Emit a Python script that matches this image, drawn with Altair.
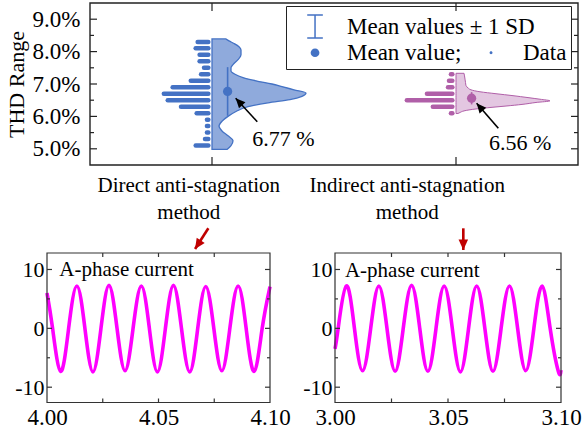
import altair as alt
import pandas as pd

# ------------------------------------------------------------------ data
cat_pos = [1, 3]
cat_line1 = ["Direct anti-stagnation", "Indirect anti-stagnation"]
cat_line2 = ["method", "method"]
cat_label_x = [0.81, 2.60]

mean_thd = [6.77, 6.56]
sd_thd = [0.75, 0.19]
mean_text = ["6.77 %", "6.56 %"]

# histograms (bin centre in %, relative frequency)
hist_d_bin = [5.1, 5.3, 5.5, 5.7, 5.9, 6.1, 6.3, 6.5, 6.7, 6.9, 7.1, 7.3, 7.5, 7.7, 7.9, 8.1, 8.3]
hist_d_freq = [3.5, 1.6, 1.2, 1.2, 1.2, 3.3, 6.5, 9.2, 10.0, 8.2, 4.5, 2.4, 1.8, 2.7, 2.7, 3.5, 3.1]
hist_i_bin = [6.1, 6.3, 6.5, 6.7, 6.9, 7.1, 7.3]
hist_i_freq = [1.2, 4.9, 10.2, 6.1, 1.8, 1.6, 1.2]

# half-violin density (THD value, relative density)
viol_d_v = [4.98, 5.10, 5.25, 5.40, 5.55, 5.70, 5.85, 6.00, 6.15, 6.30, 6.42, 6.52, 6.62, 6.72,
            6.82, 6.92, 7.00, 7.10, 7.20, 7.30, 7.40, 7.50, 7.60, 7.75, 7.90, 8.05, 8.15, 8.25,
            8.33, 8.39]
viol_d_w = [15, 19, 21, 16, 10, 7, 10, 16, 24, 36, 56, 78, 90, 94,
            82, 70, 60, 44, 31, 23, 19, 19, 21, 26, 29, 29, 27, 22,
            17, 14]
viol_i_v = [6.09, 6.12, 6.17, 6.23, 6.28, 6.32, 6.37, 6.43, 6.48, 6.53, 6.58, 6.64, 6.70,
            6.76, 6.82, 6.88, 6.95, 7.05, 7.15, 7.25, 7.33]
viol_i_w = [2, 4, 8, 20, 36, 50, 66, 80, 94, 84, 72, 57, 40,
            24, 15, 12, 10, 9.5, 9, 8.5, 8]

# annotations (top panel coordinates)
ann_x = [1.33, 3.27]
ann_y = [5.09, 4.96]
arr_tail_x = [1.371, 3.347]
arr_tail_y = [5.836, 5.633]
arr_tip_x = [1.194, 3.169]
arr_tip_y = [6.559, 6.404]
arr_angle = [317, 319]
red_tail_x = [0.970, 3.060]
red_tail_y = [2.546, 2.546]
red_tip_x = [0.861, 3.060]
red_tip_y = [1.907, 1.877]
red_angle = [213, 180]

legend_labels = ["Mean values \u00b1 1 SD", "Mean value;", "Data"]

# A-phase current, left window (4.00-4.10 s)
cur_l_t = [4.0000, 4.0025, 4.0061, 4.0097, 4.0134, 4.0170, 4.0206, 4.0242, 4.0278, 4.0314,
           4.0350, 4.0386, 4.0423, 4.0459, 4.0495, 4.0531, 4.0567, 4.0603, 4.0640, 4.0676,
           4.0712, 4.0748, 4.0784, 4.0820, 4.0857, 4.0893, 4.0929, 4.0965, 4.1000]
cur_l_i = [6.0, 0, -7.3, 0, 7.2, 0, -7.4, 0, 7.3, 0,
           -7.2, 0, 7.2, 0, -7.4, 0, 7.3, 0, -7.4, 0,
           7.1, 0, -7.2, 0, 7.2, 0, -7.3, 0, 7.1]
# A-phase current, right window (3.00-3.10 s)
cur_r_t = [3.0000, 3.0014, 3.0050, 3.0086, 3.0122, 3.0158, 3.0194, 3.0230, 3.0266, 3.0302,
           3.0339, 3.0375, 3.0411, 3.0447, 3.0483, 3.0519, 3.0555, 3.0591, 3.0627, 3.0663,
           3.0699, 3.0735, 3.0772, 3.0808, 3.0844, 3.0880, 3.0916, 3.0952, 3.0988, 3.1000]
cur_r_i = [-3.5, 0, 7.2, 0, -7.2, 0, 7.2, 0, -7.3, 0,
           7.3, 0, -7.3, 0, 7.2, 0, -7.4, 0, 7.2, 0,
           -7.3, 0, 7.2, 0, -7.2, 0, 7.2, 0, -7.3, -7.1]
panel_text = "A-phase current"
ptext_x = [4.0055, 3.0044]
ptext_y = [8.9, 8.7]

# ------------------------------------------------------------------ style
FONT = "Liberation Serif"
BLUE = "#4472C4"
PURPLE = "#B05FA8"
MAGENTA = "#FF00FF"
DARKRED = "#C00000"
# legend glyphs (drawn shifted right inside the symbol column)
IBEAM = "M0.41,-1H1.77M1.09,-1V1M0.41,1H1.77"
CIRC = "M1.47,0A0.38,0.38,0,1,1,0.71,0A0.38,0.38,0,1,1,1.47,0Z"
DOT = "M1.22,0A0.13,0.13,0,1,1,0.96,0A0.13,0.13,0,1,1,1.22,0Z"
ARROW = "M0,0L-0.55,1.2L0.55,1.2Z"

TXD, TYD = [0, 4], [4.5, 9.5]
LXD, RXD, BYD = [4.0, 4.1], [3.0, 3.1], [-12.6, 12.8]
TX = alt.Scale(domain=TXD, range=[90, 578], nice=False, zero=False)
TY = alt.Scale(domain=TYD, range=[165, 3], nice=False, zero=False)
LX = alt.Scale(domain=LXD, range=[47, 270], nice=False, zero=False)
LY = alt.Scale(domain=BYD, range=[402.5, 253], nice=False, zero=False)
RX = alt.Scale(domain=RXD, range=[335, 561], nice=False, zero=False)
RY = alt.Scale(domain=BYD, range=[402.5, 253], nice=False, zero=False)


def X(f, s, axis=None):
    return alt.X(f, type="quantitative", scale=s, axis=axis)


def Y(f, s, axis=None):
    return alt.Y(f, type="quantitative", scale=s, axis=axis)


layers = []

# ---- violins
for c, vv, ww, col, op, sw in [(cat_pos[0], viol_d_v, viol_d_w, BLUE, 0.6, 1.3),
                               (cat_pos[1], viol_i_v, viol_i_w, PURPLE, 0.35, 1.0)]:
    df = pd.DataFrame({"v": vv, "w": ww})
    layers.append(
        alt.Chart(df).transform_calculate(xa=f"{c} + datum.w / 122", xb=f"{c}")
        .mark_area(orient="horizontal", interpolate="monotone", fill=col, fillOpacity=op,
                   stroke=col, strokeWidth=sw)
        .encode(y=Y("v", TY), x=X("xa", TX), x2="xb"))

# ---- histograms
for c, bb, ff, col in [(cat_pos[0], hist_d_bin, hist_d_freq, BLUE),
                       (cat_pos[1], hist_i_bin, hist_i_freq, PURPLE)]:
    df = pd.DataFrame({"bin": bb, "freq": ff})
    layers.append(
        alt.Chart(df).transform_calculate(xa=f"{c} - 0.03",
                                          xb=f"{c} - 0.03 - (datum.freq * 4.9 - 4.5) / 122")
        .mark_rule(strokeWidth=4.5, strokeCap="round", color=col)
        .encode(y=Y("bin", TY), x=X("xa", TX), x2="xb"))

# ---- error bars and means
stats = pd.DataFrame({"pos": cat_pos, "mean": mean_thd, "sd": sd_thd, "grp": ["d", "i"]})
col_enc = alt.Color("grp:N", scale=alt.Scale(domain=["d", "i"], range=[BLUE, PURPLE]), legend=None)
layers.append(
    alt.Chart(stats).transform_calculate(xp="datum.pos + 0.128", lo="datum.mean - datum.sd",
                                         hi="datum.mean + datum.sd")
    .mark_rule(strokeWidth=1.6)
    .encode(x=X("xp", TX), y=Y("lo", TY), y2="hi", color=col_enc))
layers.append(
    alt.Chart(stats).transform_calculate(xp="datum.pos + 0.128")
    .mark_point(filled=True, shape="circle", size=86, opacity=1)
    .encode(x=X("xp", TX), y=Y("mean", TY), color=col_enc))

# ---- black annotation arrows + texts
arr = pd.DataFrame({"tx": arr_tail_x, "ty": arr_tail_y, "hx": arr_tip_x, "hy": arr_tip_y,
                    "ang": arr_angle})
layers.append(alt.Chart(arr).mark_rule(color="black", strokeWidth=1.6)
              .encode(x=X("tx", TX), y=Y("ty", TY), x2="hx", y2="hy"))
layers.append(alt.Chart(arr).mark_point(shape=ARROW, filled=True, color="black", size=256, opacity=1)
              .encode(x=X("hx", TX), y=Y("hy", TY), angle=alt.Angle("ang:Q", scale=None)))
ann = pd.DataFrame({"x": ann_x, "y": ann_y, "t": mean_text})
layers.append(alt.Chart(ann).mark_text(align="left", baseline="alphabetic", font=FONT, fontSize=22,
                                       color="black")
              .encode(x=X("x", TX), y=Y("y", TY), text="t:N"))

# ---- category labels and red arrows
cl = pd.DataFrame({"x": cat_label_x, "l1": cat_line1, "l2": cat_line2})
layers.append(alt.Chart(cl).transform_calculate(y="3.676")
              .mark_text(align="center", baseline="alphabetic", font=FONT, fontSize=21, color="black")
              .encode(x=X("x", TX), y=Y("y", TY), text="l1:N"))
layers.append(alt.Chart(cl).transform_calculate(y="2.82")
              .mark_text(align="center", baseline="alphabetic", font=FONT, fontSize=21, color="black")
              .encode(x=X("x", TX), y=Y("y", TY), text="l2:N"))
red = pd.DataFrame({"tx": red_tail_x, "ty": red_tail_y, "hx": red_tip_x, "hy": red_tip_y,
                    "ang": red_angle})
layers.append(alt.Chart(red).mark_rule(color=DARKRED, strokeWidth=2.6)
              .encode(x=X("tx", TX), y=Y("ty", TY), x2="hx", y2="hy"))
layers.append(alt.Chart(red).mark_point(shape=ARROW, filled=True, color=DARKRED, size=300, opacity=1)
              .encode(x=X("hx", TX), y=Y("hy", TY), angle=alt.Angle("ang:Q", scale=None)))


# ---- frames and ticks
def frame(xd, yd, xs, ys, yaxis, xaxis, color, sw):
    df = pd.DataFrame({"x0": [xd[0]], "x1": [xd[1]], "y0": [yd[0]], "y1": [yd[1]]})
    return (alt.Chart(df).mark_rect(filled=False, stroke=color, strokeWidth=sw)
            .encode(x=X("x0", xs, xaxis), x2="x1", y=Y("y0", ys, yaxis), y2="y1"))


def hticks(vals, edge, xs, ys, off, color, sw=1.2):
    df = pd.DataFrame({"v": vals, "e": [edge] * len(vals)})
    return (alt.Chart(df).mark_rule(color=color, strokeWidth=sw, x2Offset=off)
            .encode(y=Y("v", ys), x=X("e", xs), x2="e"))


def vticks(vals, edge, xs, ys, off, color, sw=1.2):
    df = pd.DataFrame({"v": vals, "e": [edge] * len(vals)})
    return (alt.Chart(df).mark_rule(color=color, strokeWidth=sw, y2Offset=off)
            .encode(x=X("v", xs), y=Y("e", ys), y2="e"))


top_yaxis = alt.Axis(orient="left", offset=-90, values=[5, 6, 7, 8, 9],
                     labelExpr="format(datum.value, '.1f') + '%'", domain=False, ticks=False,
                     tickSize=0, grid=False, labelFont=FONT, labelFontSize=23, labelColor="black",
                     labelPadding=10, title="THD Range", titleFont=FONT, titleFontSize=22,
                     titleFontWeight="normal", titleColor="black", titlePadding=4)
layers.append(frame(TXD, TYD, TX, TY, top_yaxis, None, "#222222", 1.4))
major_t, minor_t = [5, 6, 7, 8, 9], [5.5, 6.5, 7.5, 8.5]
layers += [hticks(major_t, TXD[0], TX, TY, 7, "#222222"), hticks(minor_t, TXD[0], TX, TY, 4, "#222222"),
           hticks(major_t, TXD[1], TX, TY, -7, "#222222"), hticks(minor_t, TXD[1], TX, TY, -4, "#222222"),
           vticks(cat_pos, TYD[1], TX, TY, 8, "#222222"), vticks(cat_pos, TYD[0], TX, TY, -8, "#222222")]


def bottom_axes(off_left, ticks_x):
    ya = alt.Axis(orient="left", offset=off_left, values=[-10, 0, 10],
                  labelExpr="datum.value < 0 ? '-' + format(-datum.value, 'd') : format(datum.value, 'd')",
                  domain=False, ticks=False, tickSize=0, grid=False, labelFont=FONT, labelFontSize=22,
                  labelColor="black", labelPadding=3, title=None)
    xa = alt.Axis(orient="bottom", offset=-31.5, values=ticks_x, format=".2f", domain=False,
                  ticks=False, tickSize=0, grid=False, labelFont=FONT, labelFontSize=23,
                  labelColor="black", labelPadding=4, labelFlush=False, labelOverlap=False, title=None)
    return ya, xa


for xd, xs, ys, offl, tvals, tt, tx, txt_i in [
        (LXD, LX, LY, -47, [4.0, 4.05, 4.1], cur_l_t, cur_l_i, 0),
        (RXD, RX, RY, -335, [3.0, 3.05, 3.1], cur_r_t, cur_r_i, 1)]:
    cur = pd.DataFrame({"t": tt, "i": tx})
    layers.append(alt.Chart(cur).mark_line(color=MAGENTA, strokeWidth=3.6, interpolate="natural")
                  .encode(x=X("t", xs), y=Y("i", ys)))
    pt = pd.DataFrame({"x": [ptext_x[txt_i]], "y": [ptext_y[txt_i]], "t": [panel_text]})
    layers.append(alt.Chart(pt).mark_text(align="left", baseline="alphabetic", font=FONT,
                                          fontSize=21, color="black")
                  .encode(x=X("x", xs), y=Y("y", ys), text="t:N"))
    ya, xa = bottom_axes(offl, tvals)
    fc = "#333333"
    layers.append(frame(xd, BYD, xs, ys, ya, xa, fc, 1.2))
    xt = [xd[0] + 0.025, xd[0] + 0.05, xd[0] + 0.075]
    layers += [vticks(xt, BYD[1], xs, ys, 4, fc), vticks(xt, BYD[0], xs, ys, -4, fc),
               hticks([-10, 0, 10], xd[0], xs, ys, 5, fc), hticks([-5, 5], xd[0], xs, ys, 3, fc),
               hticks([-10, 0, 10], xd[1], xs, ys, -5, fc), hticks([-5, 5], xd[1], xs, ys, -3, fc)]

# ---- legend (two Vega legends, second carries the frame)
leg_common = dict(orient="none", symbolSize=529, symbolStrokeWidth=1.5, symbolStrokeColor=BLUE,
                  symbolFillColor=BLUE, symbolOpacity=1, labelOffset=32, labelFont=FONT,
                  labelFontSize=23, labelColor="black", labelLimit=400)
la = pd.DataFrame({"k": legend_labels[:1]})
layers.append(alt.Chart(la).mark_point(opacity=0, filled=False, color=BLUE)
              .encode(shape=alt.Shape("k:N", scale=alt.Scale(domain=legend_labels[:1], range=[IBEAM]),
                                      legend=alt.Legend(legendX=286, legendY=10, title=None, padding=4,
                                                        **leg_common))))
lb = pd.DataFrame({"k": legend_labels[1:]})
layers.append(alt.Chart(lb).mark_point(opacity=0, filled=True, color=BLUE)
              .encode(shape=alt.Shape("k:N", scale=alt.Scale(domain=legend_labels[1:], range=[CIRC, DOT]),
                                      legend=alt.Legend(legendX=286, legendY=6, title="\u00a0",
                                                        titleFontSize=22, titlePadding=8,
                                                        direction="horizontal", columns=2,
                                                        columnPadding=4, padding=4,
                                                        strokeColor="#222222", **leg_common))))

chart = (alt.layer(*layers)
         .resolve_scale(x="independent", y="independent", shape="independent")
         .properties(width=583, height=434, autosize=alt.AutoSizeParams(type="none"), padding=0,
                     background="white")
         .configure_view(stroke=None))

chart.save("out.html", embed_options={"renderer": "svg", "actions": False})
